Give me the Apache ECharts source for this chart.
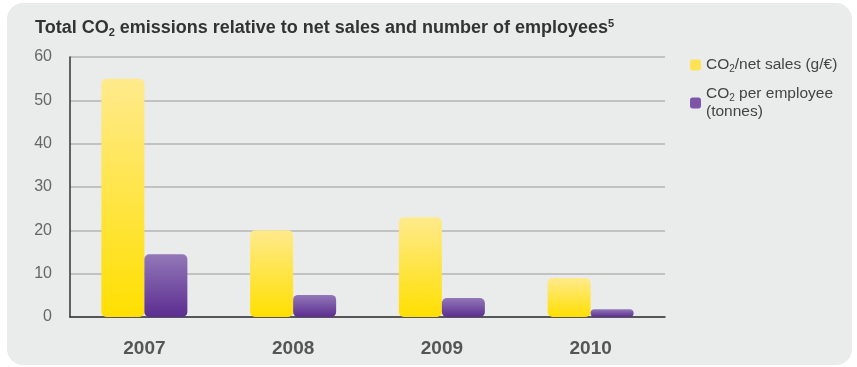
<!DOCTYPE html>
<html>
<head>
<meta charset="utf-8">
<style>
  html, body { margin: 0; padding: 0; background: #ffffff; }
  #chart { width: 857px; height: 367px; }
</style>
<script src="https://cdn.jsdelivr.net/npm/echarts@6/dist/echarts.min.js"></script>
</head>
<body>
<div id="chart"></div>
<script>
// Years on the category axis
const years = ['2007', '2008', '2009', '2010'];
// CO2 per net sales, g/€
const co2PerSales = [55, 20, 23, 9];
// CO2 per employee, tonnes
const co2PerEmployee = [14.5, 5.1, 4.4, 1.8];
// Value-axis ticks
const yTicks = [0, 10, 20, 30, 40, 50, 60];

const chart = echarts.init(document.getElementById('chart'), null, { renderer: 'canvas' });

const font = 'Liberation Sans, Arial, sans-serif';

function vGrad(top, bottom) {
  return new echarts.graphic.LinearGradient(0, 0, 0, 1, [
    { offset: 0, color: top },
    { offset: 1, color: bottom }
  ]);
}

chart.setOption({
  backgroundColor: '#ffffff',
  animation: false,
  graphic: [{
    type: 'rect',
    z: -10,
    silent: true,
    shape: { x: 7, y: 3, width: 845, height: 362, r: 16 },
    style: { fill: '#eaebeb' }
  }],
  title: {
    left: 35,
    top: 18,
    padding: 0,
    text: '{b|Total CO}{s|2}{b| emissions relative to net sales and number of employees}{p|5}',
    textStyle: {
      rich: {
        b: { fontFamily: font, fontSize: 18, fontWeight: 'bold', color: '#333333' },
        s: { fontFamily: font, fontSize: 11, fontWeight: 'bold', color: '#333333', verticalAlign: 'bottom', padding: [9, 0, 0, 0] },
        p: { fontFamily: font, fontSize: 11, fontWeight: 'bold', color: '#333333', verticalAlign: 'top', padding: [0, 0, 7, 0] }
      }
    }
  },
  legend: {
    orient: 'vertical',
    left: 685,
    top: 52,
    itemWidth: 11,
    itemHeight: 11,
    itemGap: 12,
    icon: 'roundRect',
    align: 'left',
    selectedMode: false,
    textStyle: {
      fontFamily: font,
      fontSize: 15.5,
      color: '#444444',
      rich: {
        t: { fontFamily: font, fontSize: 15.5, color: '#444444', lineHeight: 18 },
        s: { fontFamily: font, fontSize: 10, color: '#444444', verticalAlign: 'bottom', lineHeight: 18, padding: [7, 0, 0, 0] }
      }
    },
    data: [
      { name: 'sales', itemStyle: { color: '#ffe355' } },
      { name: 'employee', itemStyle: { color: '#7d55a8' } }
    ],
    formatter: function (name) {
      if (name === 'sales') return '{t|CO}{s|2}{t|/net sales (g/€)}';
      return '{t|CO}{s|2}{t| per employee}\n{t|(tonnes)}';
    }
  },
  grid: { left: 70, right: 192, top: 57, bottom: 50, containLabel: false },
  xAxis: {
    type: 'category',
    data: years,
    axisLine: { show: true, lineStyle: { color: '#333333', width: 1.5 } },
    axisTick: { show: false },
    axisLabel: {
      margin: 22,
      fontFamily: font,
      fontSize: 19,
      fontWeight: 'bold',
      color: '#555555'
    }
  },
  yAxis: {
    type: 'value',
    min: yTicks[0],
    max: yTicks[yTicks.length - 1],
    interval: 10,
    axisLine: { show: true, lineStyle: { color: '#333333', width: 1.5 } },
    axisTick: { show: false },
    axisLabel: {
      margin: 18,
      fontFamily: font,
      fontSize: 16,
      color: '#666666'
    },
    splitLine: { show: true, lineStyle: { color: '#b4b5b5', width: 1.5 } }
  },
  series: [
    {
      name: 'sales',
      type: 'bar',
      data: co2PerSales,
      barWidth: 43,
      barGap: '0%',
      itemStyle: { color: vGrad('#ffea8c', '#ffdf00'), borderRadius: 5 }
    },
    {
      name: 'employee',
      type: 'bar',
      data: co2PerEmployee,
      barWidth: 43,
      barGap: '0%',
      itemStyle: { color: vGrad('#9378b8', '#5b2d90'), borderRadius: 5 }
    }
  ]
});
</script>
</body>
</html>
